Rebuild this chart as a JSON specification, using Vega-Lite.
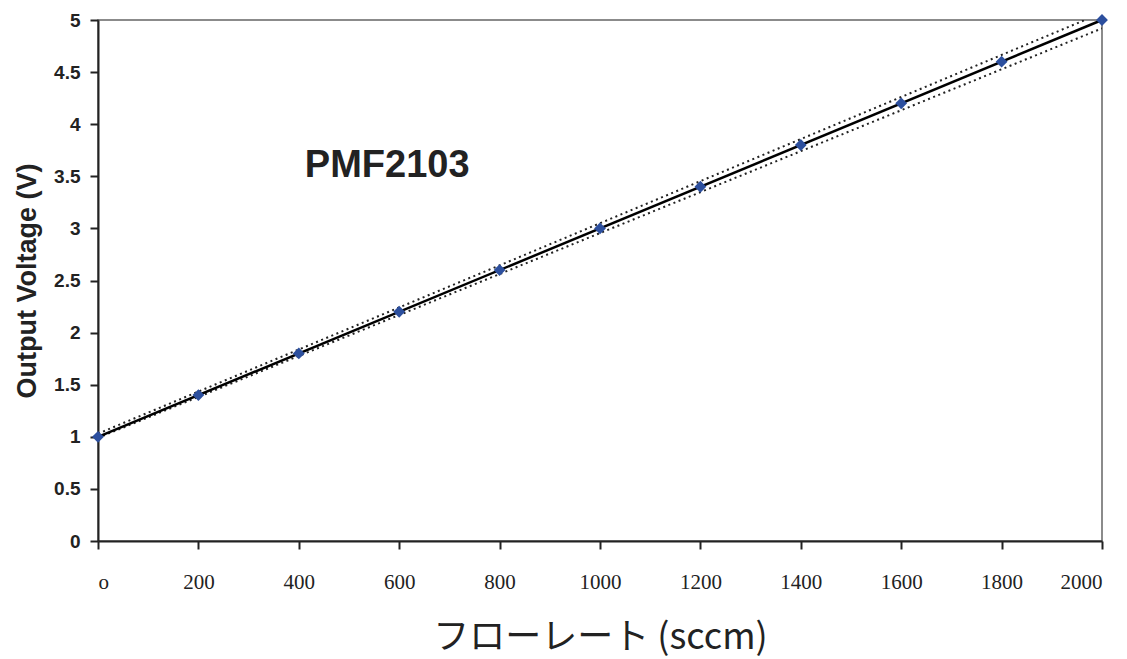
{
  "$schema": "https://vega.github.io/schema/vega-lite/v6.json",
  "autosize": "none",
  "width": 1004,
  "height": 521,
  "padding": {"left": 98, "top": 20, "right": 25, "bottom": 118},
  "background": "white",
  "config": {
    "view": {"stroke": "#666", "strokeWidth": 1.5},
    "axis": {"grid": false, "domainColor": "#222", "domainWidth": 2, "tickColor": "#222", "tickWidth": 2, "tickSize": 8, "labelColor": "#222"}
  },
  "datasets": {
    "points": [
      {"flow": 0, "volt": 1.0},
      {"flow": 200, "volt": 1.4},
      {"flow": 400, "volt": 1.8},
      {"flow": 600, "volt": 2.2},
      {"flow": 800, "volt": 2.6},
      {"flow": 1000, "volt": 3.0},
      {"flow": 1200, "volt": 3.4},
      {"flow": 1400, "volt": 3.8},
      {"flow": 1600, "volt": 4.2},
      {"flow": 1800, "volt": 4.6},
      {"flow": 2000, "volt": 5.0}
    ],
    "lines": [
      {"series": "fit", "flow": 0, "volt": 1.0},
      {"series": "fit", "flow": 2000, "volt": 5.0},
      {"series": "upper", "flow": 0, "volt": 1.03},
      {"series": "upper", "flow": 1966, "volt": 5.0},
      {"series": "lower", "flow": 0, "volt": 0.99},
      {"series": "lower", "flow": 2000, "volt": 4.92}
    ],
    "labels": [
      {"flow": 412, "volt": 3.6, "text": "PMF2103"}
    ]
  },
  "layer": [
    {
      "data": {"name": "lines"},
      "transform": [{"filter": "datum.series != 'fit'"}],
      "mark": {"type": "line", "color": "#222", "strokeWidth": 2, "strokeDash": [2, 3.5], "clip": true},
      "encoding": {
        "x": {"field": "flow", "type": "quantitative"},
        "y": {"field": "volt", "type": "quantitative"},
        "detail": {"field": "series"}
      }
    },
    {
      "data": {"name": "lines"},
      "transform": [{"filter": "datum.series == 'fit'"}],
      "mark": {"type": "line", "color": "#000", "strokeWidth": 2.5},
      "encoding": {
        "x": {"field": "flow", "type": "quantitative"},
        "y": {"field": "volt", "type": "quantitative"}
      }
    },
    {
      "data": {"name": "points"},
      "mark": {"type": "point", "shape": "diamond", "filled": true, "color": "#2c4f9e", "size": 140, "opacity": 1},
      "encoding": {
        "x": {
          "field": "flow",
          "type": "quantitative",
          "scale": {"domain": [0, 2000], "nice": false},
          "axis": {
            "values": [0, 200, 400, 600, 800, 1000, 1200, 1400, 1600, 1800, 2000],
            "labelExpr": "datum.value == 0 ? 'o' : datum.label",
            "format": "d",
            "labelFont": "Liberation Serif",
            "labelFontSize": 21,
            "labelPadding": 22,
            "title": "フローレート (sccm)",
            "titleFont": "Noto Sans CJK JP",
            "titleFontSize": 36,
            "titleFontWeight": "normal",
            "titleColor": "#222",
            "titlePadding": 28
          }
        },
        "y": {
          "field": "volt",
          "type": "quantitative",
          "scale": {"domain": [0, 5], "nice": false},
          "axis": {
            "values": [0, 0.5, 1, 1.5, 2, 2.5, 3, 3.5, 4, 4.5, 5],
            "format": "~g",
            "labelFont": "Liberation Sans",
            "labelFontSize": 19,
            "labelFontWeight": "bold",
            "labelPadding": 10,
            "title": "Output Voltage (V)",
            "titleFont": "Liberation Sans",
            "titleFontSize": 27,
            "titleFontWeight": "bold",
            "titleColor": "#222",
            "titlePadding": 12
          }
        }
      }
    },
    {
      "data": {"name": "labels"},
      "mark": {"type": "text", "font": "Liberation Sans", "fontSize": 38, "fontWeight": "bold", "align": "left", "baseline": "middle", "color": "#222"},
      "encoding": {
        "x": {"field": "flow", "type": "quantitative"},
        "y": {"field": "volt", "type": "quantitative"},
        "text": {"field": "text"}
      }
    }
  ]
}
